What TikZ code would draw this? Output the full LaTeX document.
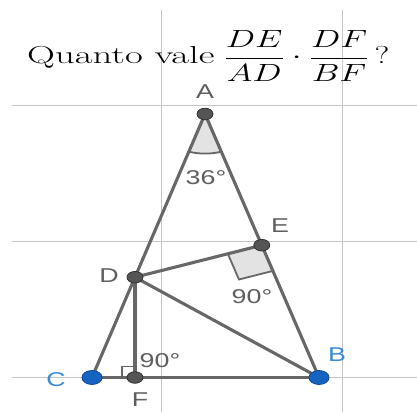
\documentclass[tikz,border=0pt]{standalone}
\usepackage{fontspec}
\setsansfont{Liberation Sans}
\usepackage{graphicx}
\usetikzlibrary{calc}
\definecolor{gridc}{HTML}{C4C4C4}
\definecolor{segc}{HTML}{676767}
\definecolor{ptgray}{HTML}{555555}
\definecolor{ptedge}{HTML}{333333}
\definecolor{ptblue}{HTML}{1565C0}
\definecolor{ptblueedge}{HTML}{0D47A1}
\definecolor{lblblue}{HTML}{3A8AD8}
\definecolor{lblgray}{HTML}{5E5E5E}
\definecolor{angfill}{HTML}{E3E3E3}
\newcommand{\stretchx}[1]{\scalebox{1.34}[1]{#1}}
\begin{document}
\begin{tikzpicture}[x=1pt,y=1pt,
  gridline/.style={gridc, line width=1pt},
  seg/.style={segc, line width=3.1pt, line cap=round},
  anglemark/.style={draw=segc, line width=1.8pt},
  lblg/.style={text=lblgray, font=\sffamily\fontsize{20}{22}\selectfont, inner sep=0pt},
  lblb/.style={text=lblblue, font=\sffamily\fontsize{20}{22}\selectfont, inner sep=0pt},
  ttl/.style={inner sep=0pt, font=\fontsize{24.5}{28}\selectfont}]
\useasboundingbox (0,0) rectangle (417,412);
\fill[white] (0,0) rectangle (417,412);
% grid
\draw[gridline] (161,0) -- (161,402);
\draw[gridline] (342.5,0) -- (342.5,402);
\draw[gridline] (12,306) -- (417,306);
\draw[gridline] (12,170.3) -- (417,170.3);
\draw[gridline] (12,34.5) -- (417,34.5);
% points
\coordinate (A) at (205,298);
\coordinate (C) at (92,34.5);
\coordinate (B) at (319,34.5);
\coordinate (D) at ($(A)!0.6195!(C)$);
\coordinate (F) at (D |- C);
\coordinate (E) at ($(A)!0.498!(B)$);
% angle at A
\fill[angfill] (A) -- ++(252.2:53 and 39.6) arc[start angle=252.2, end angle=287.8, x radius=53, y radius=39.6] -- cycle;
\draw[anglemark] ($(A)+(252.2:53 and 39.6)$) arc[start angle=252.2, end angle=287.8, x radius=53, y radius=39.6];
% right angle at E
\coordinate (E1) at ($(E)!35pt!(D)$);
\coordinate (E3) at ($(E)!28pt!(B)$);
\path[anglemark, fill=angfill] (E) -- (E1) -- ($(E1)+(E3)-(E)$) -- (E3) -- cycle;
% right angle at F
\coordinate (F1) at ($(F)!13pt!(C)$);
\coordinate (F3) at ($(F)!11pt!(D)$);
\path[anglemark, line width=1.3pt, fill=white] (F) -- (F1) -- ($(F1)+(F3)-(F)$) -- (F3) -- cycle;
% segments
\draw[seg] (A) -- (C);
\draw[seg] (A) -- (B);
\draw[seg] (C) -- (B);
\draw[seg] (D) -- (E);
\draw[seg] (D) -- (B);
\draw[seg] (D) -- (F);
% point markers
\foreach \p in {A,D,E,F}{
  \filldraw[fill=ptgray, draw=ptedge, line width=0.8pt] (\p) ellipse[x radius=8, y radius=5.8];
}
\foreach \p in {B,C}{
  \filldraw[fill=ptblue, draw=ptblueedge, line width=0.8pt] (\p) ellipse[x radius=10, y radius=7];
}
% labels
\node[lblg] (lA) at (205,320) {\stretchx{A}};
\node[lblg] (lang) at (206,234) {\stretchx{36°}};
\node[lblg] (lE) at (280,186) {\stretchx{E}};
\node[lblg] (lD) at (109,136) {\stretchx{D}};
\node[lblg] (lE90) at (252,115) {\stretchx{90°}};
\node[lblg] (lF90) at (160,51) {\stretchx{90°}};
\node[lblb] (lB) at (337,57) {\stretchx{B}};
\node[lblb] (lC) at (56,32) {\stretchx{C}};
\node[lblg] (lF) at (140,12) {\stretchx{F}};
% title
\node[ttl, anchor=base west] (title) at (27,348) {\scalebox{1.58}[1]{Quanto vale}\hspace{0.4em}\scalebox{1.4}[1]{$\displaystyle\frac{DE}{AD}\cdot\frac{DF}{BF}$\,?}};
\end{tikzpicture}
\end{document}
